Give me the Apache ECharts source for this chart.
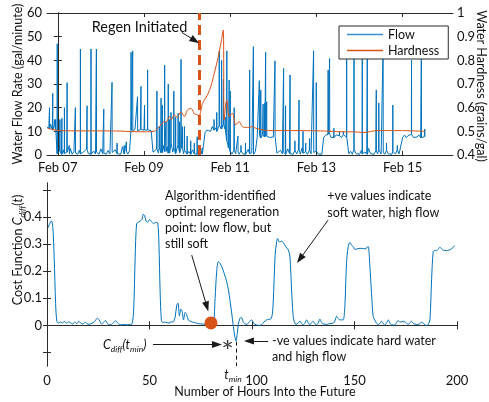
<!DOCTYPE html>
<html><head><meta charset="utf-8">
<script src="https://cdn.jsdelivr.net/npm/echarts@6/dist/echarts.min.js"></script>
<style>html,body{margin:0;padding:0;background:#fff}#c{width:489px;height:402px}</style>
</head><body><div id="c"></div>
<script>
// ---------------- DATA ----------------
// Top panel: hours since Feb 07 00:00
const flowStartHour = -6;
// hourly flow level (gal/min), hours -6 .. 204
const flowLevel = [
  12,11,13,10.5,12.5,11,
  0.5,1.8,0.3,2.2,0.6,1.2,0.4,2.8,0.3,1.5,0.8,0.3,2,0.5,1.1,0.3,2.4,0.6,0.9,0.3,1.7,0.4,1.2,0.3,2.6,0.5,0.8,0.3,1.9,0.4,1.1,0.3,2.2,0.6,0.9,0.3,3.5,0.5,1.3,0.4,2,
  10.4,9.8,11,10.2,9.6,10.8,10,10.5,9.7,10.6,10,10.3,
  1.2,0.4,2.5,0.8,3,1,4,1.5,3.5,0.8,5,1.2,3,0.6,4.5,1,2.8,0.5,2,0.4,1.5,0.3,2.2,0.5,1,0.3,1.8,0.4,0.8,
  9.5,10.5,11,10,12,10.5,11.5,10,12.5,11,13,
  11,6,3,
  1.5,0.4,2,0.6,1.2,0.3,1.8,0.5,0.9,0.3,2.4,0.6,1,0.3,1.5,
  7.5,8.2,7.2,8.6,7.6,7.9,8.4,7.4,8.1,7.6,7.8,
  0.8,0.3,2,0.5,1.2,0.3,2.6,0.6,1,0.3,1.8,0.5,2.2,0.4,3,0.8,1.4,0.3,2,0.5,1.1,0.3,1.6,0.4,0.9,0.3,
  7.4,8.3,7.6,8.8,7.5,8,7.3,8.5,7.7,8.1,7.4,8.6,7.8,7.5,
  0.5,1.6,0.3,2.4,0.6,1.1,0.3,2,0.5,1.3,0.3,2.8,0.6,1,0.3,1.7,0.5,2.2,0.4,1.2,0.3,1.9,0.5,0.9,0.3,1.5,0.4,2.1,0.5,0.8,
  7.5,8.4,7.3,8.2,7.8,8.7,7.4,8,7.6,8.5,7.3,8.1,7.7
];
// flow spikes: [hour, peak gal/min]
const flowSpikes = [
  [-4.6,20],[-2.8,26],[-1.8,15],[-1.2,15],[-0.3,47],[1.2,15],[2.3,15.5],[3.7,20],[5.2,30.6],[6.4,4],
  [9.8,20],[12.6,44.8],[16.3,20.8],[18.5,44.8],[21.5,44.8],[25.6,19.4],[30.2,30.7],[33,5],[37,4],[38.2,5.6],
  [40.8,43.4],[41.7,44],[44.4,24.6],[46.3,29],[48.3,21],[50,36],[55.2,27],[56.5,12],[57.5,24],[58.2,21],
  [59.5,38],[60.3,14],[61.5,30],[62.2,15],[63,18],[64.6,27],[65.6,16],[67,17.6],[67.8,14],[68.6,40.4],
  [69.4,12],[70.5,12],[72,8],[74,6],[76,5],[77.6,7.7],[80.4,3],[87,15],[88.5,18],[89.9,44],
  [91.2,40],[92.2,32],[93.2,16],[94.1,44],[95.4,31.7],[96,27],[98.2,20],[100.3,8],[102,4],[104.5,5],
  [106.8,35.9],[108.9,45.8],[112.2,31.4],[113,27.5],[114.3,21.5],[115.2,22],[115.7,43.4],[116.3,22.5],[120.9,39.8],[125.7,36.6],
  [126.8,20.8],[129.3,33.8],[132,6],[134.3,23.2],[136.5,10],[138,5],[140.2,7],[142.4,44],[143.9,30.6],[150.5,35.9],
  [151.3,40.8],[153.7,11.3],[156.8,10],[159,10],[160.8,48],[164.9,48],[169.5,48],[172.3,48],[177.3,27.5],[178.7,22],
  [181.1,48],[183,5],[186.5,21.1],[189,4],[196.9,40],[202.4,48],[204.3,11]
];
// hardness (grains/gal): [hour, value]
const hardness = [
  [-5.7,0.513],[-2.9,0.508],[1.5,0.503],[12.6,0.502],[23.7,0.502],[34.8,0.501],[40.4,0.499],[48.2,0.498],
  [53.7,0.5],[55.6,0.513],[57.4,0.527],[59.3,0.541],[60.4,0.54],[62.1,0.562],[63.2,0.55],[64.8,0.569],
  [66.5,0.56],[68.6,0.583],[70.4,0.562],[72.2,0.59],[74.1,0.597],[75,0.59],[75.9,0.576],[77.8,0.569],
  [78.7,0.567],[80.6,0.618],[83.3,0.654],[85.2,0.689],[87.1,0.745],[88.9,0.801],[90.8,0.872],[92.1,0.928],
  [92.6,0.548],[93.6,0.62],[94.1,0.632],[95.4,0.562],[97.2,0.576],[99.1,0.527],[100.9,0.541],[102.8,0.52],
  [105.6,0.516],[108.3,0.52],[110.2,0.513],[113,0.508],[116.7,0.503],[134.8,0.503],[149.8,0.501],[157,0.498],
  [164.8,0.498],[170.4,0.495],[177.6,0.503],[190.4,0.503],[204.3,0.5]
];
const regenHour = 78.7;
const dateTickHours = [0, 48, 96, 144, 192];
const dateTickLabels = ['Feb 07', 'Feb 09', 'Feb 11', 'Feb 13', 'Feb 15'];
const flowTicks = [0, 10, 20, 30, 40, 50, 60];
const hardTicks = [0.4, 0.5, 0.6, 0.7, 0.8, 0.9, 1];

// Bottom panel: cost function [hours into future, value]
const costCurve = [
  [0.5,0.36],[1.3,0.375],[2.1,0.385],[2.8,0.365],[3.5,0.25],[4.2,0.08],[4.8,0.015],[5.5,0.008],[6.5,0.012],[7.5,0.009],
  [8.5,0.014],[9.5,0.008],[10.5,0.013],[11.5,0.009],[12.5,0.005],[13.5,0.012],[14.5,0.006],[15.5,0.015],[16.5,0.008],[17.5,0.005],
  [18.5,0.012],[19.5,0.006],[20.5,0.004],[21.5,0.006],[22.5,0.01],[23.5,0.016],[24.5,0.026],[25.5,0.02],[26.5,0.005],[27.5,0.01],
  [28.5,0.018],[29.5,0.006],[30.5,0.003],[31.5,0.004],[32.5,0.01],[33.5,0.017],[34.5,0.008],[35.5,0.003],[36.5,0.002],[37.5,0.003],
  [38.5,0.002],[39.5,0.002],[40.5,0.003],[41.5,0.005],[42.3,0.06],[43,0.25],[43.7,0.375],[44.5,0.38],[45.5,0.385],[46.3,0.39],
  [47,0.41],[47.6,0.405],[48.3,0.385],[49,0.38],[50,0.39],[51,0.383],[52,0.375],[53,0.38],[54,0.378],[54.6,0.3],
  [55.2,0.12],[55.8,0.02],[56.5,0.01],[57.5,0.012],[58.5,0.01],[59.5,0.008],[60.5,0.013],[61.5,0.012],[62.5,0.03],[63.3,0.075],
  [63.9,0.082],[64.6,0.035],[65.3,0.06],[65.9,0.052],[66.6,0.02],[67.4,0.048],[68.1,0.04],[68.9,0.02],[70,0.015],[71,0.012],
  [72,0.01],[73,0.008],[74,0.006],[75,0.005],[76,0.005],[77,0.004],[78,0.003],[79,0.003],[80,0.004],[81.2,0.006],
  [82,0.1],[82.8,0.2],[83.6,0.235],[84.5,0.228],[85.5,0.212],[86.5,0.19],[87.5,0.165],[88.5,0.131],[89.3,0.09],[90.1,0.045],
  [90.9,-0.004],[91.6,-0.04],[92.2,-0.058],[92.8,-0.03],[93.3,0.003],[94.1,0.025],[94.8,0.03],[95.6,0.015],[96.5,0.006],[97.5,0.003],
  [98.5,0.012],[99.8,0.02],[101,0.006],[102,0.002],[103,0.0],[104.5,0.001],[105.8,0.012],[107.1,0.02],[108.2,0.022],[109.1,0.023],
  [110,0.045],[110.7,0.15],[111.3,0.26],[112,0.308],[112.5,0.32],[113.3,0.308],[114.4,0.31],[115.2,0.306],[116.5,0.29],[117.7,0.278],
  [118.5,0.253],[119.3,0.131],[120,0.04],[120.4,0.02],[121.4,0.003],[122.4,0.008],[123.4,0.015],[124.2,0.006],[125,0.002],[125.8,0.008],
  [126.6,0.02],[127.4,0.01],[128.2,0.002],[129.1,0.01],[129.9,0.015],[130.7,0.006],[131.5,0.002],[132.3,0.008],[133.1,0.023],[134,0.01],
  [134.7,0.006],[135.6,0.004],[136.4,0.003],[137.2,0.005],[138,0.006],[139,0.007],[140.2,0.012],[141.3,0.033],[142.1,0.025],[142.9,0.02],
  [143.7,0.02],[144.5,0.02],[145.3,0.07],[146.1,0.229],[146.9,0.29],[147.8,0.306],[148.6,0.295],[149.4,0.29],[150.2,0.28],[151.8,0.283],
  [153.5,0.284],[155.1,0.282],[156.1,0.287],[156.7,0.29],[157.5,0.217],[158.3,0.118],[159.1,0.033],[159.9,0.02],[160.7,0.008],[161.6,0.002],
  [162.4,0.008],[163.2,0.015],[164.1,0.005],[164.8,0.001],[165.7,0.01],[166.5,0.02],[167.3,0.008],[168.1,0.002],[169.6,0.001],[170.5,0.01],
  [171.3,0.018],[172.2,0.012],[173.8,0.015],[175.4,0.008],[176.2,0.003],[177,0.01],[177.8,0.015],[178.6,0.008],[180.3,0.003],[181.9,0.006],
  [182.7,0.012],[183.5,0.008],[184.4,0.002],[185.2,-0.001],[186,0.004],[186.8,0.02],[187.6,0.168],[188.4,0.272],[189.2,0.276],[190,0.275],
  [190.9,0.282],[191.7,0.288],[192.5,0.282],[193.3,0.277],[194.1,0.276],[194.9,0.275],[195.7,0.277],[196.5,0.278],[197.4,0.283],[198.2,0.288],
  [199,0.294]
];
const optimalPoint = [80, 0.009];
const tMin = 92.2;
const costAtTMin = -0.06;
const asteriskPoint = [88.1, -0.071];
const hourTicks = [0, 50, 100, 150, 200];
const costTickMarks = [-0.1, 0, 0.1, 0.2, 0.3, 0.4, 0.5];
const costTickLabels = [0, 0.1, 0.2, 0.3, 0.4];

// ---------------- CHART ----------------
const BLUE = '#0072BD', ORANGE = '#D95319', AX = '#2b2b2b', TXT = '#111';
const FONT = 'Lato';
const FS = 12.5;
const TFS = 13;

function buildFlow() {
  const pts = flowLevel.map((v, i) => [flowStartHour + i, v]);
  flowSpikes.forEach(([t, v]) => {
    const i = Math.min(flowLevel.length - 1, Math.max(0, Math.round(t - flowStartHour)));
    const b = flowLevel[i];
    pts.push([t - 0.07, b], [t, v], [t + 0.07, b]);
  });
  pts.sort((a, b) => a[0] - b[0]);
  return pts;
}

const G0 = { left: 47, top: 13, width: 406, height: 142 };
const G1 = { left: 47, top: 183, width: 410, height: 183 };

const axLine = { show: true, lineStyle: { color: AX, width: 1 } };
const lbl = { color: TXT, fontFamily: FONT, fontSize: TFS };

const arrowHead = { symbol: 'triangle', symbolSize: [7, 10] };
const arrowStyle = { color: '#1a1a1a', width: 1, type: 'solid' };
function arrow(a, b) {
  return [{ coord: a, symbol: 'none', lineStyle: arrowStyle }, Object.assign({ coord: b, lineStyle: arrowStyle }, arrowHead)];
}

const option = {
  animation: false,
  backgroundColor: '#fff',
  grid: [
    Object.assign({ containLabel: false }, G0),
    Object.assign({ containLabel: false }, G1)
  ],
  legend: {
    data: [
      { name: 'Flow', icon: 'rect', itemStyle: { color: '#3a8fcf' } },
      { name: 'Hardness', icon: 'rect', itemStyle: { color: ORANGE } }
    ],
    orient: 'vertical',
    left: 339, top: 26,
    padding: [2, 9, 2, 8],
    itemGap: 3,
    itemWidth: 36, itemHeight: 1.3,
    backgroundColor: '#fff',
    borderColor: AX, borderWidth: 1, borderRadius: 0,
    textStyle: { color: TXT, fontFamily: FONT, fontSize: FS, lineHeight: 13 },
    selectedMode: false
  },
  xAxis: [
    { gridIndex: 0, type: 'value', min: -6, max: 220, position: 'bottom',
      axisLine: axLine, splitLine: { show: false },
      axisTick: { inside: true, length: 4, customValues: dateTickHours, lineStyle: { color: AX } },
      axisLabel: Object.assign({ customValues: dateTickHours, margin: 6,
        formatter: v => dateTickLabels[dateTickHours.indexOf(v)] }, lbl) },
    { gridIndex: 0, type: 'value', min: -6, max: 220, position: 'top',
      axisLine: axLine, splitLine: { show: false },
      axisTick: { inside: true, length: 4, customValues: dateTickHours, lineStyle: { color: AX } },
      axisLabel: { show: false } },
    { gridIndex: 1, type: 'value', min: 0, max: 200, interval: 50, position: 'bottom',
      axisLine: axLine, splitLine: { show: false },
      axisTick: { inside: true, length: 4, lineStyle: { color: AX } },
      axisLabel: Object.assign({ margin: 8, customValues: hourTicks,
        formatter: v => (v === 100 ? '{sh|' + v + '}' : String(v)),
        rich: { sh: { padding: [0, 0, 0, 9], fontFamily: FONT, fontSize: TFS, color: TXT } } }, lbl) },
    { gridIndex: 1, type: 'value', min: 0, max: 200, interval: 50, position: 'top',
      axisLine: axLine, splitLine: { show: false },
      axisTick: { inside: true, length: 4, lineStyle: { color: AX } },
      axisLabel: { show: false } }
  ],
  yAxis: [
    { gridIndex: 0, type: 'value', min: 0, max: 60, interval: 10, position: 'left',
      axisLine: axLine, splitLine: { show: false },
      axisTick: { show: true, inside: true, length: 4, lineStyle: { color: AX } },
      axisLabel: Object.assign({ margin: 5, customValues: flowTicks }, lbl) },
    { gridIndex: 0, type: 'value', min: 0.4, max: 1, interval: 0.1, position: 'right',
      axisLine: axLine, splitLine: { show: false },
      axisTick: { show: true, inside: true, length: 4, lineStyle: { color: AX } },
      axisLabel: Object.assign({ margin: 4, customValues: hardTicks, formatter: v => String(+v.toFixed(1)) }, lbl) },
    { gridIndex: 1, type: 'value', min: -0.15, max: 0.525, position: 'left',
      axisLine: axLine, splitLine: { show: false },
      axisTick: { show: true, inside: true, length: 4, customValues: costTickMarks, lineStyle: { color: AX } },
      axisLabel: Object.assign({ margin: 5, customValues: costTickLabels, formatter: v => String(+v.toFixed(1)) }, lbl) },
    { gridIndex: 1, type: 'value', min: -0.15, max: 0.525, position: 'right',
      axisLine: axLine, splitLine: { show: false },
      axisTick: { show: true, inside: true, length: 4, customValues: costTickMarks, lineStyle: { color: AX } },
      axisLabel: { show: false } }
  ],
  series: [
    { name: 'Flow', type: 'line', xAxisIndex: 0, yAxisIndex: 0, data: buildFlow(),
      symbol: 'none', showSymbol: false, lineStyle: { color: BLUE, width: 1 }, itemStyle: { color: BLUE },
      silent: true, z: 2,
      markLine: {
        silent: true, animation: false, symbol: ['none', 'none'], label: { show: false },
        emphasis: { disabled: true },
        data: [
          { xAxis: regenHour, lineStyle: { color: ORANGE, width: 3, type: [10, 5] } },
          arrow([69.1, 51.8], [76.4, 48.3])
        ]
      }
    },
    { name: 'Hardness', type: 'line', xAxisIndex: 0, yAxisIndex: 1, data: hardness,
      symbol: 'none', showSymbol: false, smooth: 0.3, lineStyle: { color: ORANGE, width: 1 }, itemStyle: { color: ORANGE },
      silent: true, z: 3 },
    { name: 'Cost', type: 'line', xAxisIndex: 2, yAxisIndex: 2, data: costCurve,
      symbol: 'none', showSymbol: false, smooth: 0.3, lineStyle: { color: BLUE, width: 1 }, itemStyle: { color: BLUE },
      silent: true, z: 2,
      markLine: {
        silent: true, animation: false, symbol: ['none', 'none'], label: { show: false },
        emphasis: { disabled: true },
        data: [
          [{ coord: [tMin, costAtTMin], lineStyle: { color: '#111', width: 1, type: [4, 3] } },
           { coord: [tMin, -0.15], lineStyle: { color: '#111', width: 1, type: [4, 3] } }],
          arrow([70.6, 0.259], [78.0, 0.069]),
          arrow([137.1, 0.388], [123.4, 0.245]),
          arrow([107.8, -0.058], [98.5, -0.058]),
          arrow([51.7, -0.071], [82.9, -0.071])
        ]
      }
    },
    { name: 'Optimal', type: 'scatter', xAxisIndex: 2, yAxisIndex: 2, data: [optimalPoint],
      symbolSize: 13, itemStyle: { color: ORANGE, opacity: 1 }, silent: true, z: 5 },
    { name: 'Cmin', type: 'scatter', xAxisIndex: 2, yAxisIndex: 2, data: [asteriskPoint],
      symbol: 'path://M4.3,0 L5.7,0 L5.7,10 L4.3,10 Z M0.32,3.1 L8.98,8.1 L9.68,6.9 L1.02,1.9 Z M1.02,8.1 L9.68,3.1 L8.98,1.9 L0.32,6.9 Z',
      symbolSize: 9, itemStyle: { color: '#000' }, silent: true, z: 5 }
  ],
  graphic: []
};

function txt(x, y, text, extra) {
  return Object.assign({ type: 'text', x: x, y: y, silent: true,
    style: Object.assign({ text: text, fill: TXT, font: FS + 'px ' + FONT, align: 'left', verticalAlign: 'middle' }, (extra && extra.style) || {}) },
    extra && extra.rotation !== undefined ? { rotation: extra.rotation } : {});
}
const richSub = {
  n: { fontFamily: FONT, fontSize: FS, lineHeight: 18, color: TXT },
  i: { fontFamily: FONT, fontSize: FS, fontStyle: 'italic', lineHeight: 18, color: TXT },
  s: { fontFamily: FONT, fontSize: 8.5, fontStyle: 'italic', lineHeight: 10, verticalAlign: 'bottom', color: TXT }
};
option.graphic = [
  txt(91.7, 27.3, 'Regen Initiated', { style: { font: '14.5px ' + FONT } }),
  txt(18, 84, 'Water Flow Rate (gal/minute)', { rotation: Math.PI / 2, style: { align: 'center' } }),
  txt(481, 86, 'Water Hardness (grains/gal)', { rotation: -Math.PI / 2, style: { align: 'center' } }),
  txt(165, 195.5, 'Algorithm-identified'),
  txt(165, 211.8, 'optimal regeneration'),
  txt(165, 228.1, 'point: low flow, but'),
  txt(165, 244.4, 'still soft'),
  txt(327.3, 195.7, '+ve values indicate'),
  txt(327.3, 212.7, 'soft water, high flow'),
  txt(272, 341, '-ve values indicate hard water'),
  txt(272, 356.7, 'and high flow'),
  txt(103, 345, '{i|C}{s|diff}{i|(t}{s|min}{i|)}', { style: { rich: richSub } }),
  txt(233, 375, '{i|t}{s|min}', { style: { rich: richSub, align: 'center' } }),
  txt(18, 250, '{n|Cost Function }{i|C}{s|diff}{n|(}{i|t}{n|)}', { rotation: Math.PI / 2, style: { rich: richSub, align: 'center' } }),
  txt(265, 392, 'Number of Hours Into the Future', { style: { align: 'center' } })
];

const chart = echarts.init(document.getElementById('c'), null, { renderer: 'canvas', width: 489, height: 402 });
chart.setOption(option);
</script>
</body></html>
